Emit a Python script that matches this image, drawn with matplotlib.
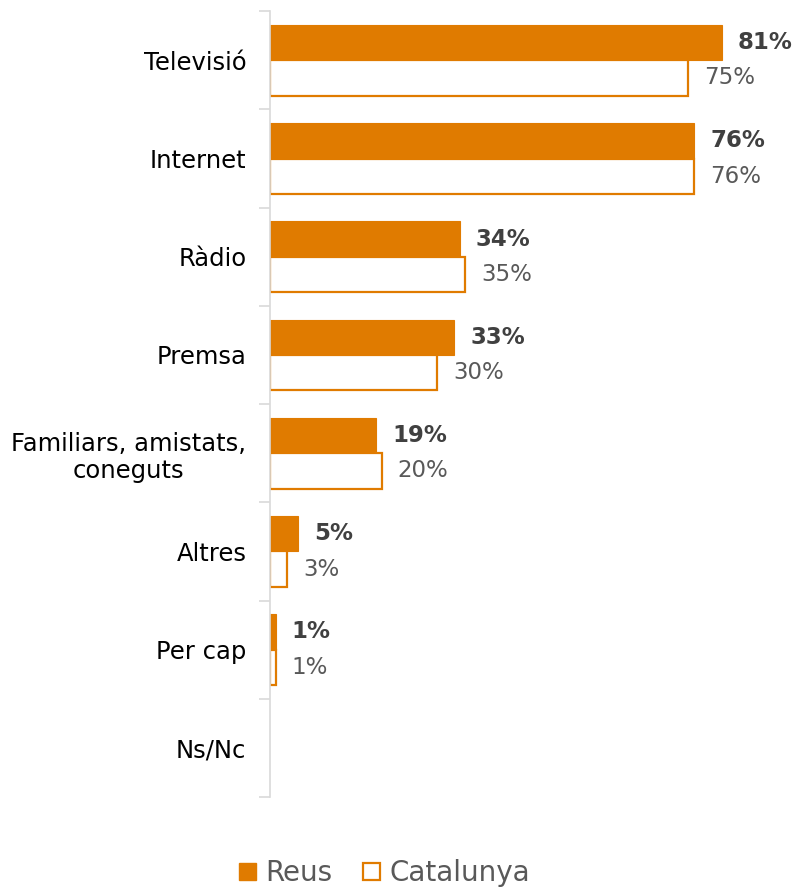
import numpy as np
import matplotlib.pyplot as plt
from matplotlib.patches import Patch

categorias = ['Televisió', 'Internet', 'Ràdio', 'Premsa',
              'Familiars, amistats,\nconeguts', 'Altres', 'Per cap', 'Ns/Nc']
reus = [81, 76, 34, 33, 19, 5, 1, 0]
catalunya = [75, 76, 35, 30, 20, 3, 1, 0]

taronja = '#E07B00'
gris_eix = '#D9D9D9'

fig = plt.figure(figsize=(7.93, 8.93), dpi=100)
ax = fig.add_axes([0.3405, 0.1075, 0.633, 0.880])

y = np.arange(len(categorias))
h = 0.36
amples_reus = [0.8 if v > 0 else 0 for v in reus]
amples_cat = [1.6 if v > 0 else 0 for v in catalunya]
ax.barh(y - h / 2, reus, height=h, color=taronja, edgecolor=taronja, linewidth=amples_reus)
ax.barh(y + h / 2, catalunya, height=h, color='white', edgecolor=taronja, linewidth=amples_cat)

for i in range(len(categorias)):
    if reus[i] > 0:
        ax.text(reus[i] + 2.9, y[i] - h / 2, f'{reus[i]}%', va='center', ha='left',
                fontsize=16.5, fontweight='bold', color='#404040')
    if catalunya[i] > 0:
        ax.text(catalunya[i] + 2.9, y[i] + h / 2, f'{catalunya[i]}%', va='center', ha='left',
                fontsize=16.5, color='#595959')

ax.set_xlim(0, 90)
ax.set_ylim(len(categorias) - 0.5, -0.5)
ax.set_xticks([])
ax.set_yticks(y)
ax.set_yticklabels(categorias, fontsize=17.5, color='#000000', ha='right',
                   multialignment='center')
ax.tick_params(axis='y', which='major', length=0, pad=17)
ax.set_yticks(np.arange(-0.5, len(categorias)), minor=True)
ax.tick_params(axis='y', which='minor', length=8, width=1.2, color=gris_eix)

for s in ['top', 'right', 'bottom']:
    ax.spines[s].set_visible(False)
ax.spines['left'].set_color(gris_eix)
ax.spines['left'].set_linewidth(1.2)

handles = [Patch(facecolor=taronja, edgecolor=taronja, label='Reus'),
           Patch(facecolor='white', edgecolor=taronja, linewidth=1.6, label='Catalunya')]
leg = fig.legend(handles=handles, loc='center', bbox_to_anchor=(0.485, 0.022), ncol=2,
                 frameon=False, fontsize=20, handlelength=0.6, handleheight=0.6,
                 handletextpad=0.35, columnspacing=1.1, borderpad=0.2)
for t in leg.get_texts():
    t.set_color('#595959')

fig.savefig('out.png', dpi=100)
